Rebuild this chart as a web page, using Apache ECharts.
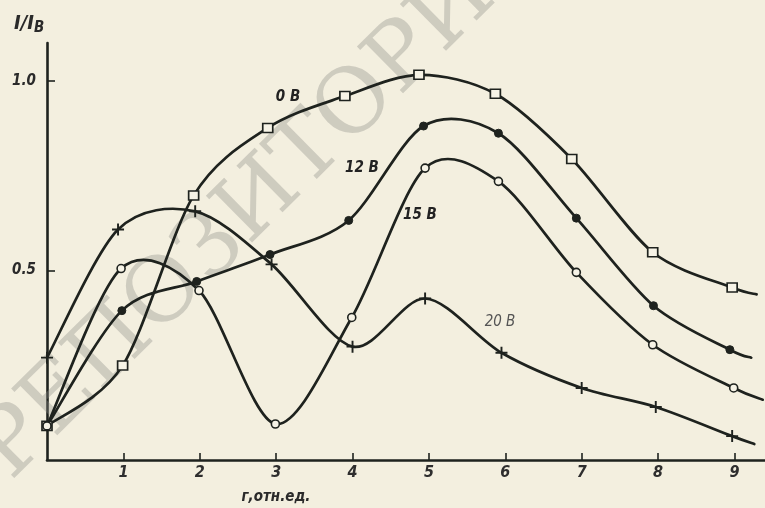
<!DOCTYPE html>
<html>
<head>
<meta charset="utf-8">
<script src="https://cdn.jsdelivr.net/npm/echarts@6/dist/echarts.min.js"></script>
<style>
html,body{margin:0;padding:0;background:#f3efdf;}
#c{width:765px;height:508px;}
</style>
</head>
<body>
<div id="c"></div>
<script>
// Data: [r (rel. units), I/I_B]
var s0V  = [[0,0.09],[0.99,0.249],[1.92,0.698],[2.89,0.876],[3.90,0.960],[4.87,1.016],[5.87,0.966],[6.87,0.794],[7.93,0.548],[8.97,0.455]];
var s0Vtail = [9.29,0.437];
var s12V = [[0,0.09],[0.98,0.394],[1.96,0.471],[2.92,0.542],[3.95,0.632],[4.93,0.881],[5.91,0.862],[6.93,0.638],[7.94,0.407],[8.94,0.291]];
var s12Vtail = [9.22,0.270];
var s15V = [[0,0.09],[0.97,0.505],[1.99,0.447],[2.99,0.095],[3.99,0.376],[4.95,0.770],[5.91,0.735],[6.93,0.495],[7.93,0.304],[8.99,0.190]];
var s15Vtail = [9.37,0.159];
var s20V = [[0,0.270],[0.93,0.608],[1.94,0.656],[2.94,0.516],[4.00,0.299],[4.95,0.426],[5.95,0.283],[7.00,0.190],[7.97,0.140],[8.97,0.063]];
var s20Vtail = [9.26,0.042];
var seriesNames = ['0 В','12 В','15 В','20 В'];
var xTicks = [1,2,3,4,5,6,7,8,9];
var yTicks = [0.5,1.0];

var ink = '#1e221e';
var paper = '#f3efdf';
var font = "'DejaVu Sans Condensed','DejaVu Sans',sans-serif";

// smooth curve through the data points, placed with the chart's own scales
function curveSeries(name, pts, tail){
  var all = pts.concat([tail]);
  return {
    name: name + ' curve', type: 'custom', data: all, encode: {x: 0, y: 1}, z: 2, silent: true,
    renderItem: function(params, api){
      if (params.dataIndex !== 0) return null;
      var P = all.map(function(p){ return api.coord(p); });
      var k = 0.9;
      var d = 'M' + P[0][0] + ',' + P[0][1];
      for (var i = 0; i < P.length - 1; i++) {
        var p0 = P[i - 1] || P[i], p1 = P[i], p2 = P[i + 1], p3 = P[i + 2] || P[i + 1];
        var c1x = p1[0] + (p2[0] - p0[0]) / 6 * k, c1y = p1[1] + (p2[1] - p0[1]) / 6 * k;
        var c2x = p2[0] - (p3[0] - p1[0]) / 6 * k, c2y = p2[1] - (p3[1] - p1[1]) / 6 * k;
        d += 'C' + c1x + ',' + c1y + ' ' + c2x + ',' + c2y + ' ' + p2[0] + ',' + p2[1];
      }
      return {type: 'path', shape: {pathData: d},
        style: {fill: 'none', stroke: ink, lineWidth: 2.7, lineJoin: 'round', lineCap: 'round'}};
    }
  };
}
function markSeries(name, pts, symbol, size, fill, bw){
  return {name: name, type: 'scatter', data: pts, symbol: symbol, symbolSize: size, z: 4,
    itemStyle: {color: fill, borderColor: ink, borderWidth: bw, opacity: 1}};
}
var plusPath = 'path://M4.2,0h1.6v10h-1.6zM0,4.2h10v1.6h-10z';

var chart = echarts.init(document.getElementById('c'));
chart.setOption({
  backgroundColor: paper,
  animation: false,
  grid: {left: 47, top: 43, width: 718, height: 417},
  xAxis: {
    type: 'value', min: 0, max: 9.4, interval: 1,
    axisLine: {show: true, lineStyle: {color: ink, width: 2.6}},
    axisTick: {show: true, inside: true, length: 7, lineStyle: {color: ink, width: 1.6},
      customValues: xTicks},
    axisLabel: {show: true, margin: 5, color: '#2e2e2e', fontStyle: 'italic', fontWeight: 600,
      fontFamily: font, fontSize: 16, customValues: xTicks},
    splitLine: {show: false}
  },
  yAxis: {
    type: 'value', min: 0, max: 1.1, interval: 0.5,
    axisLine: {show: true, lineStyle: {color: ink, width: 2.6}},
    axisTick: {show: true, inside: true, length: 8, lineStyle: {color: ink, width: 1.6},
      customValues: yTicks},
    axisLabel: {show: true, margin: 11, color: '#2a2a2a', fontStyle: 'italic', fontWeight: 600,
      fontFamily: font, fontSize: 15, customValues: yTicks,
      formatter: function(v){return v.toFixed(1);}},
    splitLine: {show: false}
  },
  series: [
    curveSeries(seriesNames[0], s0V, s0Vtail),
    curveSeries(seriesNames[1], s12V, s12Vtail),
    curveSeries(seriesNames[2], s15V, s15Vtail),
    curveSeries(seriesNames[3], s20V, s20Vtail),
    markSeries(seriesNames[0], s0V, 'rect', [10, 9], '#f6f3e6', 1.6),
    markSeries(seriesNames[1], s12V, 'circle', 8, ink, 1),
    markSeries(seriesNames[2], s15V, 'circle', 8, '#f6f3e6', 1.6),
    markSeries(seriesNames[3], s20V, plusPath, 12, ink, 0)
  ],
  graphic: [
    {type: 'text', z: 1, silent: true, x: 266, y: 196, rotation: 0.78,
      style: {text: 'РЕПОЗИТОРИЙ', font: "90px 'DejaVu Serif','Liberation Serif',serif",
        fill: 'rgba(140,140,135,0.36)', align: 'center', verticalAlign: 'middle'}},
    {type: 'text', z: 10, x: 14, y: 12,
      style: {text: '{a|I/I}{b|B}', rich: {
        a: {fontSize: 20, fontStyle: 'italic', fontWeight: 'bold', fontFamily: font, fill: '#2a2a2a'},
        b: {fontSize: 15, fontStyle: 'italic', fontWeight: 'bold', fontFamily: font, fill: '#2a2a2a', padding: [9,0,0,0]}
      }}},
    {type: 'text', z: 10, x: 276, y: 497,
      style: {text: 'г,отн.ед.', font: "italic 600 15px " + font, fill: '#2a2a2a', align: 'center', verticalAlign: 'middle'}},
    {type: 'text', z: 10, x: 288, y: 97,
      style: {text: seriesNames[0], font: "italic bold 15px " + font, fill: '#222', align: 'center', verticalAlign: 'middle'}},
    {type: 'text', z: 10, x: 362, y: 168,
      style: {text: seriesNames[1], font: "italic bold 15px " + font, fill: '#222', align: 'center', verticalAlign: 'middle'}},
    {type: 'text', z: 10, x: 420, y: 215,
      style: {text: seriesNames[2], font: "italic bold 15px " + font, fill: '#222', align: 'center', verticalAlign: 'middle'}},
    {type: 'text', z: 10, x: 500, y: 322,
      style: {text: seriesNames[3], font: "italic 15px " + font, fill: '#555', align: 'center', verticalAlign: 'middle'}}
  ]
});
</script>
</body>
</html>
